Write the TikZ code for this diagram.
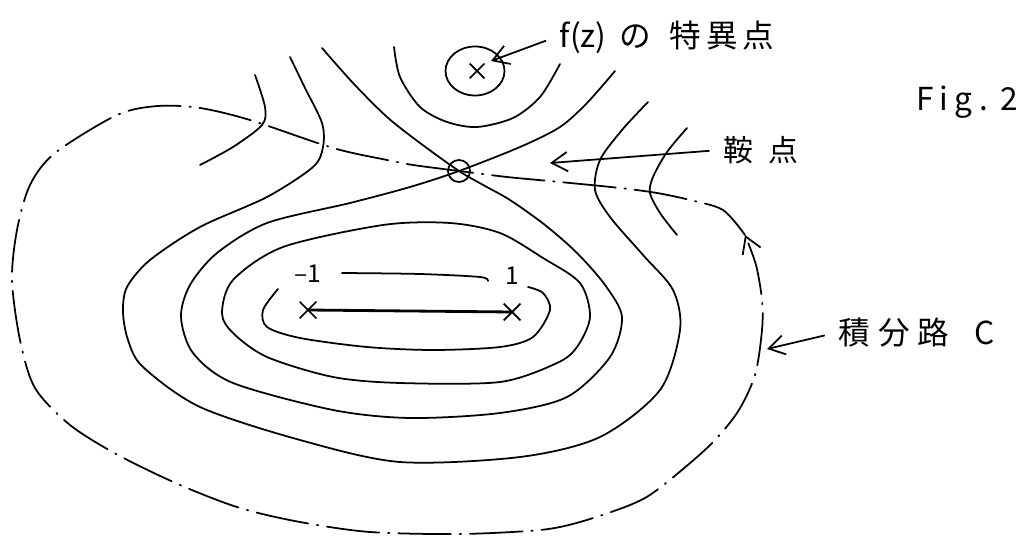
\documentclass[tikz,border=0pt]{standalone}
\usepackage{fontspec}
\newfontfamily\jpfont{Noto Sans CJK JP}
\usetikzlibrary{arrows.meta,positioning,shapes.geometric,shapes.misc}

\begin{document}
\begin{tikzpicture}[
    x=0.02cm, y=-0.02cm,
    isoline/.style={line width=1pt, line cap=round},
    intpath/.style={line width=1pt, line cap=round, dash pattern=on 30pt off 5pt on 0.8pt off 5pt},
    xmark/.style={cross out, draw, line width=1pt, minimum size=0.3cm, inner sep=0pt},
    note/.style={font=\jpfont\fontsize{17}{19}\selectfont, inner sep=2pt},
    pointer/.style={line width=1pt, -{Straight Barb[length=9pt,width=11pt]}, shorten <=6pt},
    node distance=0.3cm
]
\useasboundingbox (0,0) rectangle (1026,536);

% points
\node[xmark, minimum size=0.26cm] (sing) at (477,71) {};
\node[ellipse, draw, line width=1pt, minimum width=1.18cm, minimum height=0.98cm] (singring) at (475,71) {};
\node[circle, draw, line width=1pt, minimum size=0.44cm, inner sep=0pt] (saddle) at (459,171) {};
\node[xmark] (m1) at (308,310) {};
\node[xmark] (p1) at (512,312) {};
\draw[line width=1.6pt] (m1.center) -- (p1.center);
\node[note, font=\jpfont\fontsize{14}{16}\selectfont, above=of m1] (lblm1) {–1};
\node[note, font=\jpfont\fontsize{14}{16}\selectfont, above=of p1] (lblp1) {1};

% level lines
\draw[isoline] plot[smooth] coordinates {(394,47) (400,77) (420,107) (447,122) (477,127) (513,118) (540,97) (560,64)};
\draw[isoline] plot[smooth] coordinates {(322,48) (353,83) (387,117) (420,143) (saddle) (485,186) (510,200) (545,225) (577,253) (605,285) (622,317) (610,357) (567,397) (500,413) (410,418) (333,410) (233,383) (193,353) (181,317) (190,285) (217,253) (267,223) (350,203) (410,187) (saddle) (520,147) (560,127) (587,103) (615,71)};
\draw[isoline] plot[smooth cycle] coordinates {(450,223) (500,233) (543,258) (580,283) (590,317) (577,347) (557,363) (500,382) (400,383) (333,377) (267,357) (233,333) (222,313) (233,280) (283,247) (383,225)};
\draw[isoline] plot[smooth] coordinates {(278,289) (263,310) (267,327) (300,338) (367,347) (433,350) (500,347) (533,337) (550,310) (543,293) (528,287)};
\draw[isoline] plot[smooth] coordinates {(342,273) (420,274) (480,277) (488,281)};
\draw[isoline] plot[smooth] coordinates {(290,57) (305,88) (322,123) (323,147) (313,167) (267,197) (200,227) (150,260) (127,287) (123,312) (128,340) (143,367) (200,407) (300,440) (400,462) (520,457) (600,437) (660,390) (680,330) (673,290) (643,255) (610,217) (595,190) (600,160) (622,130) (648,102)};
\draw[isoline] plot[smooth] coordinates {(255,75) (265,107) (262,125) (233,147) (200,165)};
\draw[isoline] plot[smooth] coordinates {(687,128) (667,152) (653,177) (650,193) (660,213) (677,235)};

% path of integration
\coordinate (ctip) at (745,235);
\draw[intpath, -{Straight Barb[length=9pt,width=11pt]}] plot[smooth] coordinates {(saddle) (413,165) (387,160) (333,148) (250,120) (200,108) (158,106) (117,115) (55,153) (30,185) (17,230) (12,280) (20,340) (35,388) (70,425) (118,455) (180,485) (240,508) (300,522) (370,532) (460,534) (540,530) (580,522) (630,505) (657,490) (707,448) (737,413) (755,375) (762,330) (762,300) (756,265) (ctip)};
\draw[intpath] plot[smooth] coordinates {(ctip) (723,210) (690,200) (657,193) (620,188) (560,182) (507,177) (saddle)};

% labels
\node[note, anchor=west, font=\jpfont\fontsize{18}{20}\selectfont] (lblsing) at (556,37) {f(z)\hspace{0.4em}の\hspace{0.6em}特\hspace{0.15em}異\hspace{0.15em}点};
\node[note, anchor=west] (lblsaddle) at (720,150) {鞍\hspace{0.5em}点};
\node[note, anchor=west, font=\jpfont\fontsize{18}{20}\selectfont] (lblpath) at (835,333) {積\hspace{0.25em}分\hspace{0.25em}路\hspace{0.8em}C};
\node[anchor=west, font=\jpfont\fontsize{18}{20}\selectfont] (figno) at (910,102) {F\hspace{0.2em}i\hspace{0.2em}g\hspace{0.2em}.\hspace{0.4em}2};

\coordinate (singtip) at (491,61);
\coordinate (saddletip) at (550,163);
\coordinate (pathtip) at (767,349);
\draw[pointer] (lblsing.west) -- (singtip);
\draw[pointer] (lblsaddle.west) -- (saddletip);
\draw[pointer] (lblpath.west) -- (pathtip);
\end{tikzpicture}
\end{document}
